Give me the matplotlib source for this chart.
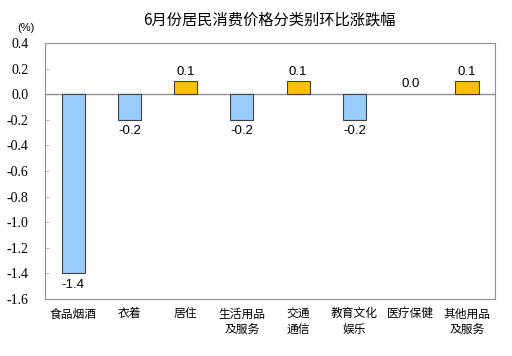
import matplotlib
matplotlib.use('Agg')
import matplotlib.pyplot as plt
import numpy as np

plt.rcParams['font.family'] = ['Noto Sans CJK SC', 'DejaVu Sans']

categories = ['食品烟酒', '衣着', '居住', '生活用品\n及服务', '交通\n通信', '教育文化\n娱乐', '医疗保健', '其他用品\n及服务']
values = [-1.4, -0.2, 0.1, -0.2, 0.1, -0.2, 0.0, 0.1]
yticks = [0.4, 0.2, 0.0, -0.2, -0.4, -0.6, -0.8, -1.0, -1.2, -1.4, -1.6]

fig = plt.figure(figsize=(5.12, 3.56), dpi=100)
ax = fig.add_axes([0.088, 0.160, 0.879, 0.719])

x = np.arange(len(categories))
colors = ['#99CCFF' if v < 0 else '#FFC000' for v in values]
edges = [0.8 if v != 0 else 0 for v in values]
ax.bar(x, values, width=0.41, color=colors, edgecolor='#404040', linewidth=edges, zorder=3)

for xi, v in zip(x, values):
    if v < 0:
        ax.text(xi, v - 0.04, '{:.1f}'.format(v), ha='center', va='top', fontsize=9.5, family='Liberation Sans')
    else:
        ax.text(xi, v + 0.03, '{:.1f}'.format(v), ha='center', va='bottom', fontsize=9.5, family='Liberation Sans')

ax.axhline(0, color='#909090', linewidth=1, zorder=2)
ax.set_xlim(-0.5, len(categories) - 0.5)
ax.set_ylim(-1.6, 0.4)
ax.set_yticks(yticks)
ax.set_yticklabels(['{:.1f}'.format(t) for t in yticks], fontsize=10)
for lab in ax.get_yticklabels():
    lab.set_fontfamily('Liberation Serif')
ax.set_xticks(x)
ax.set_xticklabels(categories, fontsize=8.5, linespacing=1.3, va='top')
ax.tick_params(axis='x', length=0, pad=6)
ax.tick_params(axis='y', length=3, direction='in', color='#c0c0c0', pad=12)
for s in ax.spines.values():
    s.set_color('#909090')

fig.text(0.527, 0.945, '6月份居民消费价格分类别环比涨跌幅', ha='center', va='center', fontsize=11)
fig.text(0.05, 0.92, '(%)', ha='center', va='center', fontsize=8, family='Liberation Sans')

fig.savefig('out.png', dpi=100)
